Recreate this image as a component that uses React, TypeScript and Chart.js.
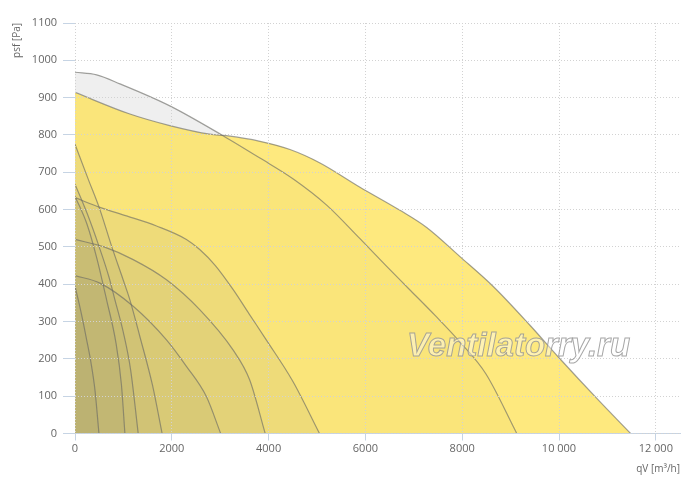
import { useEffect, useRef } from 'react'
import Chart from 'chart.js/auto'
import type { ChartConfiguration, Plugin } from 'chart.js'

// x ticks (airflow, m³/h) and their printed labels
const xTicks = [0, 2000, 4000, 6000, 8000, 10000, 12000]
const xTickLabels = ['0', '2000', '4000', '6000', '8000', '10 000', '12 000']

// grey curve (top, 970 Pa)
const qGrey = [0, 447, 928, 1959, 3058, 3822, 4510, 5200, 5888, 6440, 6880, 7450, 7954, 8488, 9128]
const pGrey = [968, 961, 937, 878, 798, 738, 682, 612, 522, 448, 390, 315, 245, 160, 0]

// big yellow curve
const qMain = [0, 1134, 1959, 2784, 3127, 3822, 4442, 5062, 5888, 6715, 7266, 7954, 8642, 9400, 10000, 10825, 11480]
const pMain = [914, 856, 825, 802, 798, 783, 761, 725, 660, 598, 552, 474, 394, 290, 203, 88, 0]

// smaller curves
const qA = [0, 515, 1065, 1684, 2302, 2577, 2900, 3265, 3600, 3952, 4500, 5052]
const pA = [632, 606, 583, 556, 520, 493, 450, 386, 320, 251, 140, 0]

const qB = [0, 600, 1202, 1890, 2577, 3265, 3608, 3930]
const pB = [520, 500, 466, 412, 332, 224, 144, 0]

const qC = [0, 515, 1202, 1890, 2302, 2714, 3010]
const pC = [423, 403, 341, 251, 180, 99, 0]

const qD = [0, 68, 150, 241, 330, 412, 495]
const pD = [394, 358, 310, 251, 190, 117, 0]

const qE = [0, 275, 515, 756, 1000, 1134, 1340, 1600, 1800]
const pE = [775, 681, 600, 502, 410, 358, 260, 130, 0]

const qF = [0, 250, 500, 700, 825, 1000, 1150, 1306]
const pF = [668, 590, 500, 420, 358, 270, 170, 0]

const qG = [0, 250, 450, 653, 850, 960, 1031]
const pG = [636, 560, 470, 358, 240, 130, 0]

const toPoints = (q: number[], p: number[]) => q.map((x, i) => ({ x, y: p[i] }))

const lineColor = 'rgba(105, 105, 100, 0.62)'
const innerFill = 'rgba(140, 140, 105, 0.11)'
const axisBlue = '#c6d4e4'
const gridColor = '#d2d2d2'
const font = '"Open Sans", "Noto Sans", sans-serif'

const watermark: Plugin<'line'> = {
  id: 'watermark',
  afterDraw(chart) {
    const ctx = chart.ctx
    ctx.save()
    ctx.font = `italic bold 33px "Liberation Sans", Arial, sans-serif`
    ctx.textBaseline = 'alphabetic'
    ctx.fillStyle = 'rgba(255, 255, 255, 0.4)'
    ctx.strokeStyle = 'rgba(150, 150, 150, 0.85)'
    ctx.lineWidth = 1
    ctx.fillText('Ventilatorry.ru', 407, 356)
    ctx.strokeText('Ventilatorry.ru', 407, 356)
    ctx.restore()
  },
}

export default function App() {
  const canvasRef = useRef<HTMLCanvasElement>(null)

  useEffect(() => {
    document.body.style.margin = '0'
    if (!canvasRef.current) return

    const curve = (q: number[], p: number[], fill: string, order: number) => ({
      data: toPoints(q, p),
      borderColor: lineColor,
      borderWidth: 1.2,
      backgroundColor: fill,
      fill: 'origin' as const,
      pointRadius: 0,
      cubicInterpolationMode: 'monotone' as const,
      order,
    })

    const config: ChartConfiguration<'line'> = {
      type: 'line',
      data: {
        datasets: [
          curve(qGrey, pGrey, 'rgba(232, 232, 232, 0.7)', 20),
          curve(qMain, pMain, 'rgba(254, 224, 71, 0.7)', 19),
          curve(qA, pA, innerFill, 10),
          curve(qB, pB, innerFill, 9),
          curve(qC, pC, innerFill, 8),
          curve(qE, pE, innerFill, 7),
          curve(qF, pF, innerFill, 6),
          curve(qG, pG, innerFill, 5),
          curve(qD, pD, innerFill, 4),
        ],
      },
      options: {
        responsive: true,
        maintainAspectRatio: false,
        animation: false,
        events: [],
        layout: { padding: { top: 23, right: 20, bottom: 0, left: 0 } },
        plugins: {
          legend: { display: false },
          tooltip: { enabled: false },
          filler: { drawTime: 'beforeDatasetsDraw' },
        },
        scales: {
          x: {
            type: 'linear',
            min: 0,
            max: 12500,
            afterBuildTicks: (axis) => {
              axis.ticks = xTicks.map((value) => ({ value }))
            },
            afterFit: (scale) => {
              scale.height = 57.5
            },
            ticks: {
              callback: (_v, i) => xTickLabels[i] ?? '',
              color: '#666',
              font: { family: font, size: 11 },
              padding: 2,
              maxRotation: 0,
            },
            grid: {
              color: gridColor,
              tickColor: axisBlue,
              tickLength: 7,
              tickBorderDash: [],
              z: 1,
            },
            border: { display: true, color: axisBlue, dash: [1, 2], z: 1 },
            title: {
              display: true,
              text: 'qV [m³/h]',
              align: 'end',
              color: '#666',
              font: { family: font, size: 10 },
              padding: { top: 0, bottom: 16 },
            },
          },
          y: {
            type: 'linear',
            min: 0,
            max: 1100,
            afterFit: (scale) => {
              scale.width = 75
            },
            ticks: {
              stepSize: 100,
              callback: (v) => String(v),
              color: '#666',
              font: { family: font, size: 11 },
              padding: 6,
            },
            grid: {
              color: gridColor,
              tickColor: axisBlue,
              tickLength: 12,
              tickBorderDash: [],
              z: 1,
            },
            border: { display: false, dash: [1, 2] },
            title: {
              display: true,
              text: 'psf [Pa]',
              align: 'end',
              color: '#666',
              font: { family: font, size: 10 },
              padding: { top: 11, bottom: 0 },
            },
          },
        },
      },
      plugins: [watermark],
    }

    const chart = new Chart(canvasRef.current, config)
    return () => chart.destroy()
  }, [])

  return (
    <div style={{ position: 'relative', width: 700, height: 491, background: '#fff' }}>
      <canvas ref={canvasRef} />
    </div>
  )
}
